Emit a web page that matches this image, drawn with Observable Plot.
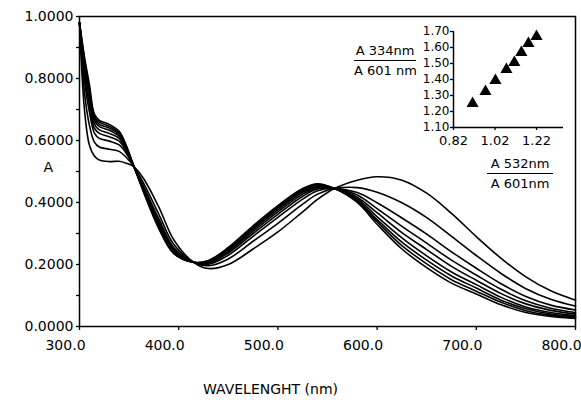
<!DOCTYPE html>
<html><head><meta charset="utf-8">
<script src="https://cdn.jsdelivr.net/npm/d3@7"></script>
<script src="https://cdn.jsdelivr.net/npm/@observablehq/plot@0.6"></script>
<style>
body{margin:0;background:white;}
#wrap{position:relative;width:581px;height:403px;font-family:"DejaVu Sans",sans-serif;}
#main{position:absolute;left:0;top:0;}
#inset{position:absolute;left:340px;top:16px;}
.frac{position:absolute;font-size:13px;line-height:13px;text-align:center;color:black;white-space:nowrap;}
.frac .num{border-bottom:1.5px solid black;padding-bottom:3px;}
.frac .den{padding-top:3px;}
g[aria-label="ylabels"] text{letter-spacing:1.5px;}
g[aria-label="xtitle"] text{letter-spacing:1.4px;}
</style></head><body>
<div id="wrap">
  <div id="main"></div>
  <div id="inset"></div>
  <div class="frac" style="left:354px;top:44px;width:62px;"><div class="num">A 334nm</div><div class="den">A 601 nm</div></div>
  <div class="frac" style="left:487px;top:157px;width:66px;"><div class="num">A 532nm</div><div class="den">A 601nm</div></div>
</div>
<script>
// wavelength (nm)
const wavelength = [300,305,310,315,320,330,340,347,355,365,380,395,415,430,450,475,500,525,540,557,580,600,625,650,675,700,725,750,775,800];
// absorbance spectra (9 curves)
const c1 = [0.980,0.700,0.585,0.550,0.537,0.532,0.533,0.527,0.515,0.475,0.385,0.280,0.207,0.187,0.200,0.250,0.305,0.370,0.410,0.445,0.472,0.483,0.472,0.430,0.365,0.290,0.220,0.160,0.115,0.085];
const c2 = [0.980,0.756,0.649,0.595,0.579,0.572,0.565,0.546,0.515,0.460,0.362,0.265,0.207,0.196,0.218,0.275,0.333,0.395,0.427,0.445,0.448,0.433,0.399,0.351,0.291,0.229,0.171,0.122,0.088,0.066];
const c3 = [0.980,0.794,0.692,0.624,0.607,0.598,0.586,0.559,0.515,0.450,0.347,0.255,0.207,0.201,0.230,0.291,0.352,0.411,0.438,0.445,0.432,0.399,0.350,0.298,0.241,0.188,0.138,0.097,0.069,0.053];
const c4 = [0.980,0.814,0.716,0.640,0.623,0.612,0.598,0.566,0.515,0.445,0.338,0.250,0.207,0.204,0.237,0.300,0.362,0.420,0.444,0.445,0.424,0.380,0.323,0.269,0.214,0.166,0.120,0.083,0.059,0.045];
const c5 = [0.980,0.829,0.733,0.653,0.634,0.623,0.607,0.571,0.515,0.441,0.332,0.246,0.207,0.207,0.242,0.307,0.370,0.427,0.448,0.445,0.417,0.367,0.303,0.248,0.194,0.149,0.106,0.073,0.052,0.040];
const c6 = [0.980,0.843,0.749,0.663,0.645,0.633,0.614,0.576,0.515,0.437,0.326,0.242,0.207,0.209,0.246,0.313,0.376,0.433,0.452,0.445,0.412,0.354,0.286,0.228,0.176,0.135,0.094,0.063,0.045,0.035];
const c7 = [0.980,0.853,0.761,0.672,0.652,0.640,0.620,0.579,0.515,0.435,0.322,0.240,0.207,0.210,0.250,0.318,0.382,0.438,0.455,0.445,0.407,0.345,0.272,0.214,0.163,0.124,0.085,0.057,0.040,0.032];
const c8 = [0.980,0.862,0.770,0.678,0.659,0.646,0.625,0.582,0.515,0.432,0.319,0.237,0.207,0.212,0.252,0.321,0.386,0.441,0.458,0.445,0.404,0.338,0.261,0.202,0.151,0.114,0.078,0.051,0.036,0.029];
const c9 = [0.980,0.870,0.780,0.685,0.665,0.652,0.630,0.585,0.515,0.430,0.315,0.235,0.207,0.213,0.255,0.325,0.390,0.445,0.460,0.445,0.400,0.330,0.250,0.190,0.140,0.105,0.070,0.045,0.032,0.026];

const xTicks = [300,400,500,600,700,800];
const yTicks = [0,0.2,0.4,0.6,0.8,1.0];
const yMinor = [0.1,0.3,0.5,0.7,0.9];

// inset: ratio data
const ratio532 = [0.912,0.974,1.022,1.075,1.113,1.147,1.181,1.220];
const ratio334 = [1.250,1.325,1.394,1.463,1.506,1.569,1.625,1.669];
const insetXTicks = [0.82,1.02,1.22];
const insetYTicks = [1.10,1.20,1.30,1.40,1.50,1.60,1.70];

const curves = [c1,c2,c3,c4,c5,c6,c7,c8,c9];
const spectra = curves.flatMap((c, i) => c.map((a, j) => ({wl: wavelength[j], A: a, curve: i + 1})));
const points = ratio532.map((x, i) => ({x, y: ratio334[i]}));

const font = "DejaVu Sans, sans-serif";

const main = Plot.plot({
  width: 581, height: 403,
  marginLeft: 79, marginRight: 6, marginTop: 16, marginBottom: 77,
  style: {fontFamily: font, fontSize: "14px", background: "white", color: "black"},
  x: {domain: [300, 800]},
  y: {domain: [0, 1]},
  marks: [
    Plot.axisY({ticks: [...yTicks, ...yMinor], tickSize: 3, tickFormat: () => "", label: null, strokeWidth: 1.3}),
    Plot.axisX({ticks: xTicks, tickSize: 4, tickFormat: () => "", label: null, strokeWidth: 1.3}),
    Plot.text(yTicks, {y: d => d, frameAnchor: "left", dx: -6, textAnchor: "end", text: d => d3.format(".4f")(d), fontSize: 14, ariaLabel: "ylabels"}),
    Plot.text(xTicks, {x: d => d, frameAnchor: "bottom", dy: 23, dx: -14, text: d => d3.format(".1f")(d), fontSize: 14}),
    Plot.line(spectra, {x: "wl", y: "A", z: "curve", curve: "catmull-rom", stroke: "black", strokeWidth: 1.6}),
    Plot.frame({stroke: "black", strokeWidth: 1.5}),
    Plot.text(["A"], {frameAnchor: "left", dx: -36, dy: -4, text: d => d, fontSize: 14}),
    Plot.text(["WAVELENGHT (nm)"], {frameAnchor: "bottom", dx: -57, dy: 67, text: d => d, fontSize: 14, ariaLabel: "xtitle"})
  ]
});
document.getElementById("main").appendChild(main);

const inset = Plot.plot({
  width: 236, height: 180,
  marginLeft: 113, marginRight: 13, marginTop: 15, marginBottom: 69,
  style: {fontFamily: font, background: "transparent", color: "black", overflow: "visible"},
  x: {domain: [0.82, 1.35]},
  y: {domain: [1.10, 1.70]},
  marks: [
    Plot.axisX({ticks: insetXTicks, tickSize: 3, tickFormat: () => "", label: null, strokeWidth: 1.3}),
    Plot.axisY({ticks: insetYTicks, tickSize: 3, tickFormat: () => "", label: null, strokeWidth: 1.3}),
    Plot.ruleX([0.82], {stroke: "black", strokeWidth: 1.5}),
    Plot.ruleY([1.10], {stroke: "black", strokeWidth: 1.5}),
    Plot.text(insetXTicks, {x: d => d, frameAnchor: "bottom", dy: 17, text: d => d3.format(".2f")(d), fontSize: 13}),
    Plot.text(insetYTicks, {y: d => d, frameAnchor: "left", dx: -4, textAnchor: "end", text: d => d3.format(".2f")(d), fontSize: 12}),
    Plot.dot(points, {x: "x", y: "y", symbol: "triangle", fill: "black", stroke: "none", r: 4.5})
  ]
});
document.getElementById("inset").appendChild(inset);
</script>
</body></html>
